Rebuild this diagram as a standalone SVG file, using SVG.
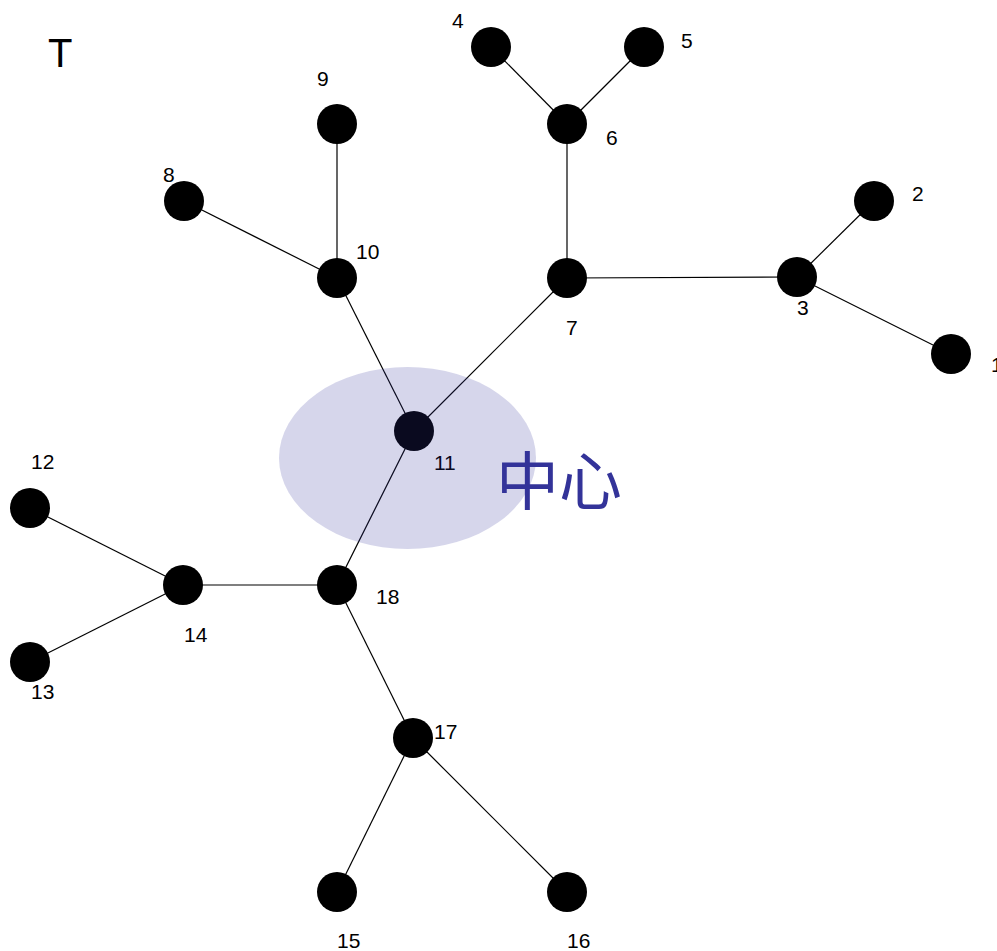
<svg xmlns="http://www.w3.org/2000/svg" width="997" height="951" viewBox="0 0 997 951">
<style>
.n{fill:#000}
.l{font-family:"Liberation Sans",Arial,sans-serif;font-size:21px;fill:#000}
.e line{stroke:#000;stroke-width:1.2}
</style>
<rect width="997" height="951" fill="#fff"/>
<text x="48" y="67" font-family="Liberation Sans,Arial,sans-serif" font-size="40">T</text>
<g class="e" id="connectors">
<line x1="491" y1="47" x2="567" y2="124"/>
<line x1="644" y1="47" x2="567" y2="124"/>
<line x1="567" y1="124" x2="567" y2="278"/>
<line x1="567" y1="278" x2="797" y2="277"/>
<line x1="797" y1="277" x2="874" y2="201"/>
<line x1="797" y1="277" x2="951" y2="354"/>
<line x1="567" y1="278" x2="414" y2="431"/>
<line x1="337" y1="278" x2="414" y2="431"/>
<line x1="184" y1="201" x2="337" y2="278"/>
<line x1="337" y1="124" x2="337" y2="278"/>
<line x1="414" y1="431" x2="337" y2="585"/>
<line x1="337" y1="585" x2="183" y2="585"/>
<line x1="183" y1="585" x2="30" y2="508"/>
<line x1="183" y1="585" x2="30" y2="662"/>
<line x1="337" y1="585" x2="413" y2="738"/>
<line x1="413" y1="738" x2="337" y2="892"/>
<line x1="413" y1="738" x2="567" y2="892"/>
</g>
<g id="n1"><circle class="n" cx="951" cy="354" r="20"/><text class="l" x="991" y="372">1</text></g>
<g id="n2"><circle class="n" cx="874" cy="201" r="20"/><text class="l" x="912" y="201">2</text></g>
<g id="n3"><circle class="n" cx="797" cy="277" r="20"/><text class="l" x="797" y="315">3</text></g>
<g id="n4"><circle class="n" cx="491" cy="47" r="20"/><text class="l" x="452" y="28">4</text></g>
<g id="n5"><circle class="n" cx="644" cy="47" r="20"/><text class="l" x="681" y="48">5</text></g>
<g id="n6"><circle class="n" cx="567" cy="124" r="20"/><text class="l" x="606" y="145">6</text></g>
<g id="n7"><circle class="n" cx="567" cy="278" r="20"/><text class="l" x="566" y="335">7</text></g>
<g id="n8"><circle class="n" cx="184" cy="201" r="20"/><text class="l" x="163" y="182">8</text></g>
<g id="n9"><circle class="n" cx="337" cy="124" r="20"/><text class="l" x="317" y="86">9</text></g>
<g id="n10"><circle class="n" cx="337" cy="278" r="20"/><text class="l" x="356" y="259">10</text></g>
<g id="n11"><circle class="n" cx="414" cy="431" r="20"/><text class="l" x="434" y="470">11</text></g>
<g id="n12"><circle class="n" cx="30" cy="508" r="20"/><text class="l" x="31" y="469">12</text></g>
<g id="n13"><circle class="n" cx="30" cy="662" r="20"/><text class="l" x="31" y="699">13</text></g>
<g id="n14"><circle class="n" cx="183" cy="585" r="20"/><text class="l" x="184" y="642">14</text></g>
<g id="n15"><circle class="n" cx="337" cy="892" r="20"/><text class="l" x="337" y="948">15</text></g>
<g id="n16"><circle class="n" cx="567" cy="892" r="20"/><text class="l" x="567" y="948">16</text></g>
<g id="n17"><circle class="n" cx="413" cy="738" r="20"/><text class="l" x="434" y="739">17</text></g>
<g id="n18"><circle class="n" cx="337" cy="585" r="20"/><text class="l" x="376" y="604">18</text></g>
<g id="center">
<ellipse cx="407.5" cy="458" rx="128.5" ry="91" fill="#333399" fill-opacity="0.2"/>
<text x="496" y="504" font-family="Noto Sans CJK SC,sans-serif" font-size="63" fill="#333399">中心</text>
</g>
</svg>
